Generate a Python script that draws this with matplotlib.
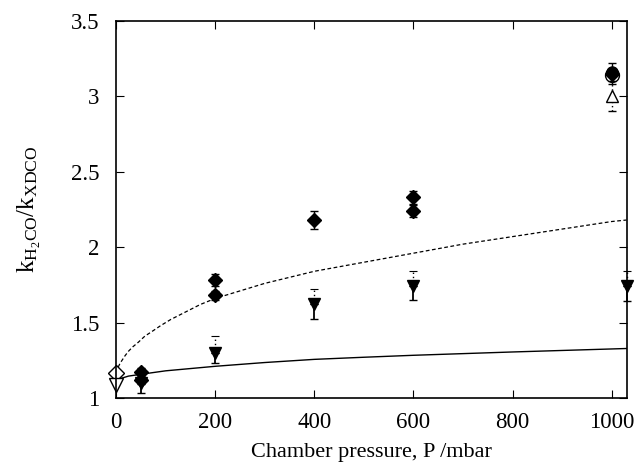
import matplotlib
matplotlib.use("Agg")
import matplotlib.pyplot as plt

plt.rcParams['font.family'] = ['Liberation Serif', 'DejaVu Serif']
plt.rcParams['mathtext.fontset'] = 'custom'
plt.rcParams['mathtext.rm'] = 'Liberation Serif'
plt.rcParams['mathtext.it'] = 'Liberation Serif'

# filled diamonds (measured ratio) with symmetric errors
dia_p = [50, 50, 200, 200, 400, 600, 600, 1000]
dia_k = [1.17, 1.12, 1.78, 1.68, 2.18, 2.33, 2.24, 3.15]
dia_err = [0.03, 0.03, 0.04, 0.03, 0.06, 0.045, 0.04, 0.07]

# filled down-triangles, upper error dotted, lower error solid
tri_p = [50, 200, 400, 600, 1030]
tri_k = [1.10, 1.30, 1.62, 1.745, 1.745]
tri_err_up = [0.05, 0.11, 0.105, 0.10, 0.10]
tri_err_dn = [0.07, 0.07, 0.095, 0.095, 0.10]

# filled circle at 1000 mbar
circ_p = [1000]
circ_k = [3.16]

# open symbols
odia_p, odia_k = [0], [1.165]
otri_p, otri_k = [0], [1.085]
ocirc_p, ocirc_k = [1000], [3.14]
otriup_p, otriup_k, otriup_err = [1000], [3.0], [0.1]

# model curves
dash_p = [0, 2, 5, 8, 12, 18, 25, 34, 45, 58, 72, 90, 110, 140, 170, 200, 250, 300, 400,
          500, 600, 700, 800, 900, 1000, 1030]
dash_k = [1.165, 1.19, 1.21, 1.23, 1.25, 1.28, 1.31, 1.34, 1.37, 1.41, 1.44, 1.48, 1.52,
          1.57, 1.62, 1.66, 1.71, 1.76, 1.84, 1.90, 1.96, 2.02, 2.07, 2.12, 2.17, 2.18]
sol_p = [0, 5, 10, 25, 50, 100, 200, 300, 400, 500, 600, 700, 800, 900, 1000, 1030]
sol_k = [1.11, 1.122, 1.13, 1.145, 1.157, 1.18, 1.21, 1.235, 1.256, 1.27, 1.283, 1.294,
         1.305, 1.315, 1.325, 1.328]

fig = plt.figure(figsize=(6.38, 4.66), dpi=100)
ax = fig.add_axes([0.182, 0.146, 0.800, 0.809])

ax.plot(dash_p, dash_k, color='black', lw=0.9, dashes=(3, 2))
ax.plot(sol_p, sol_k, color='black', lw=1.0)

ax.errorbar(dia_p, dia_k, yerr=dia_err, fmt='D', color='black', ms=7.5,
            capsize=3, elinewidth=1, clip_on=False)

eb = ax.errorbar(tri_p, tri_k, yerr=[[0] * len(tri_p), tri_err_up], fmt='none',
                 ecolor='black', capsize=3, elinewidth=1, clip_on=False)
for c in eb[2]:
    c.set_linestyle((0, (1, 2)))
for c in eb[1]:
    c.set_markeredgewidth(0.8)
ax.errorbar(tri_p, tri_k, yerr=[tri_err_dn, [0] * len(tri_p)], fmt='v', color='black',
            ms=8.5, capsize=3, elinewidth=1.3, clip_on=False)

ax.plot(ocirc_p, ocirc_k, 'o', mfc='white', mec='black', ms=10, clip_on=False)
ax.plot(circ_p, circ_k, 'o', color='black', ms=8, clip_on=False)
eb2 = ax.errorbar(otriup_p, otriup_k, yerr=otriup_err, fmt='^', mfc='white', mec='black',
                  ecolor='black', ms=9, capsize=3, elinewidth=1, clip_on=False)
for c in eb2[2]:
    c.set_linestyle((0, (1, 2)))
ax.plot(odia_p, odia_k, 'D', mfc='white', mec='black', ms=8, clip_on=False)
ax.plot(otri_p, otri_k, 'v', mfc='white', mec='black', ms=10, clip_on=False)

ax.set_xlim(0, 1030)
ax.set_ylim(1, 3.5)
ax.set_xticks([0, 200, 400, 600, 800, 1000])
ax.set_yticks([1, 1.5, 2, 2.5, 3, 3.5])
ax.set_yticklabels(['1', '1.5', '2', '2.5', '3', '3.5'])
ax.tick_params(direction='in', top=True, right=True, length=6, labelsize=16.5)
ax.tick_params(axis='x', pad=10)
ax.tick_params(axis='y', pad=12)
for s in ax.spines.values():
    s.set_linewidth(1.2)

ax.set_xlabel('Chamber pressure, P /mbar', fontsize=16, labelpad=7)
ax.set_ylabel(r'$\mathrm{k_{H_2CO}/k_{XDCO}}$', fontsize=18, labelpad=20)

fig.savefig('out.png', dpi=100)
